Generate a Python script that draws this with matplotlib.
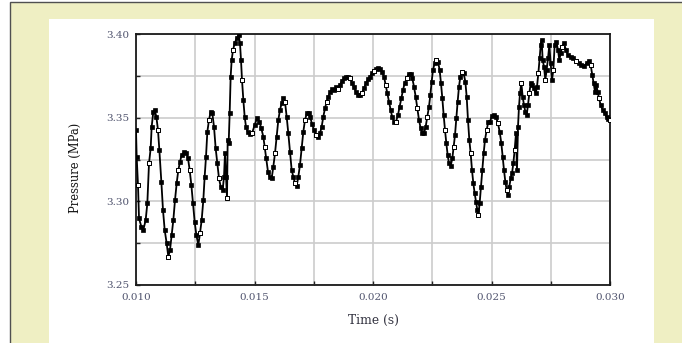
import numpy as np
import matplotlib
matplotlib.use("Agg")
import matplotlib.pyplot as plt
from matplotlib.patches import Rectangle

# pressure trace, time in ms
TIME_MS = [
    10.000, 10.028, 10.084, 10.127, 10.225, 10.309, 10.408, 10.478, 10.549, 10.619,
    10.661, 10.731, 10.788, 10.858, 10.928, 10.985, 11.069, 11.139, 11.210, 11.294,
    11.364, 11.435, 11.505, 11.575, 11.646, 11.716, 11.786, 11.857, 11.927, 12.025,
    12.124, 12.194, 12.265, 12.335, 12.405, 12.475, 12.546, 12.630, 12.700, 12.771,
    12.841, 12.897, 12.954, 13.010, 13.080, 13.150, 13.220, 13.291, 13.361, 13.432,
    13.502, 13.572, 13.657, 13.713, 13.755, 13.797, 13.840, 13.868, 13.910, 13.952,
    13.994, 14.037, 14.093, 14.163, 14.248, 14.332, 14.388, 14.430, 14.473, 14.529,
    14.585, 14.641, 14.712, 14.796,
    14.894, 15.006, 15.105, 15.204, 15.288, 15.372, 15.428, 15.499, 15.569, 15.639,
    15.724, 15.794, 15.865, 15.935, 16.005, 16.075, 16.146, 16.216, 16.286, 16.357,
    16.427, 16.497, 16.568, 16.638, 16.708, 16.779, 16.849, 16.919, 16.990, 17.060,
    17.130, 17.215, 17.285, 17.355, 17.426, 17.510, 17.595, 17.679, 17.763, 17.834,
    17.904, 17.974, 18.045, 18.115, 18.185, 18.270, 18.354, 18.439, 18.523, 18.608,
    18.692, 18.776, 18.861, 18.945, 19.030, 19.114, 19.198, 19.283, 19.367, 19.452,
    19.536, 19.620, 19.705, 19.789,
    19.873, 19.958, 20.042, 20.126, 20.211, 20.295, 20.379, 20.464, 20.534, 20.604,
    20.675, 20.745, 20.815, 20.900, 20.970, 21.054, 21.125, 21.195, 21.265, 21.336,
    21.420, 21.505, 21.589, 21.659, 21.730, 21.800, 21.870, 21.941, 22.011, 22.081,
    22.152, 22.222, 22.292, 22.362, 22.419, 22.475, 22.531, 22.602, 22.672, 22.742,
    22.812, 22.869, 22.925, 22.981, 23.038, 23.094, 23.150, 23.206, 23.277, 23.347,
    23.403, 23.460, 23.516, 23.572, 23.628, 23.685, 23.755, 23.825, 23.896, 23.952,
    24.008, 24.064, 24.121, 24.177, 24.233, 24.290, 24.346, 24.402, 24.444, 24.500,
    24.557, 24.613, 24.669, 24.725, 24.796,
    24.866, 24.936, 25.021, 25.105, 25.190, 25.274, 25.344, 25.415, 25.471, 25.527,
    25.583, 25.640, 25.696, 25.752, 25.808, 25.865, 25.921, 25.977, 26.033, 26.076,
    26.118, 26.160, 26.202, 26.258, 26.315, 26.371, 26.427, 26.484, 26.540, 26.596,
    26.652, 26.723, 26.793, 26.863, 26.920, 26.976, 27.032, 27.074, 27.116, 27.159,
    27.215, 27.271, 27.327, 27.384, 27.440, 27.496, 27.553, 27.609, 27.665, 27.735,
    27.806, 27.862, 27.918, 27.974, 28.059, 28.143, 28.228, 28.340, 28.453, 28.565,
    28.678, 28.790, 28.903, 29.015, 29.114, 29.184, 29.254, 29.311, 29.367, 29.423,
    29.480, 29.536, 29.606, 29.691, 29.775, 29.859, 29.916, 29.986,
]
PRESSURE_MPA = [
    3.3426, 3.3267, 3.3098, 3.2898, 3.2849, 3.2829, 3.2888, 3.2988, 3.3227, 3.3317,
    3.3446, 3.3536, 3.3546, 3.3506, 3.3426, 3.3307, 3.3118, 3.2948, 3.2829, 3.2749,
    3.2669, 3.2709, 3.2799, 3.2888, 3.3008, 3.3108, 3.3187, 3.3237, 3.3277, 3.3293,
    3.3291, 3.3257, 3.3187, 3.3098, 3.2988, 3.2878, 3.2799, 3.2739, 3.2809, 3.2888,
    3.3008, 3.3147, 3.3267, 3.3416, 3.3486, 3.3536, 3.3526, 3.3446, 3.3317, 3.3227,
    3.3137, 3.3088, 3.3068, 3.3147, 3.3287, 3.3147, 3.3018, 3.3367, 3.3347, 3.3526,
    3.3745, 3.3845, 3.3904, 3.3944, 3.3974, 3.3994, 3.3944, 3.3845, 3.3725, 3.3606,
    3.3506, 3.3446, 3.3416, 3.3402,
    3.3406, 3.3456, 3.3496, 3.3476, 3.3436, 3.3386, 3.3327, 3.3257, 3.3177, 3.3147,
    3.3137, 3.3207, 3.3287, 3.3386, 3.3486, 3.3546, 3.3586, 3.3616, 3.3596, 3.3506,
    3.3406, 3.3297, 3.3187, 3.3147, 3.3108, 3.3092, 3.3147, 3.3217, 3.3317, 3.3416,
    3.3486, 3.3530, 3.3530, 3.3502, 3.3462, 3.3426, 3.3396, 3.3386, 3.3406, 3.3446,
    3.3506, 3.3556, 3.3596, 3.3625, 3.3651, 3.3669, 3.3665, 3.3681, 3.3669, 3.3695,
    3.3721, 3.3735, 3.3741, 3.3745, 3.3735, 3.3709, 3.3681, 3.3655, 3.3635, 3.3633,
    3.3649, 3.3675, 3.3705, 3.3729,
    3.3745, 3.3765, 3.3781, 3.3791, 3.3795, 3.3789, 3.3775, 3.3745, 3.3695, 3.3645,
    3.3596, 3.3546, 3.3502, 3.3476, 3.3476, 3.3516, 3.3566, 3.3616, 3.3665, 3.3705,
    3.3735, 3.3759, 3.3761, 3.3735, 3.3685, 3.3626, 3.3556, 3.3486, 3.3436, 3.3410,
    3.3406, 3.3446, 3.3506, 3.3566, 3.3635, 3.3715, 3.3785, 3.3825, 3.3845, 3.3835,
    3.3785, 3.3705, 3.3616, 3.3516, 3.3426, 3.3347, 3.3277, 3.3227, 3.3211, 3.3257,
    3.3327, 3.3396, 3.3496, 3.3596, 3.3685, 3.3745, 3.3775, 3.3765, 3.3715, 3.3626,
    3.3486, 3.3367, 3.3287, 3.3187, 3.3108, 3.3048, 3.2998, 3.2948, 3.2918, 3.2988,
    3.3088, 3.3187, 3.3287, 3.3367, 3.3426,
    3.3476, 3.3476, 3.3510, 3.3516, 3.3502, 3.3466, 3.3416, 3.3347, 3.3267, 3.3187,
    3.3118, 3.3068, 3.3038, 3.3088, 3.3137, 3.3167, 3.3227, 3.3307, 3.3406, 3.3187,
    3.3446, 3.3566, 3.3645, 3.3709, 3.3625, 3.3576, 3.3536, 3.3516, 3.3576, 3.3645,
    3.3705, 3.3695, 3.3675, 3.3645, 3.3685, 3.3765, 3.3855, 3.3934, 3.3964, 3.3845,
    3.3805, 3.3725, 3.3785, 3.3855, 3.3934, 3.3825, 3.3725, 3.3785, 3.3934, 3.3954,
    3.3904, 3.3845, 3.3885, 3.3924, 3.3944, 3.3904, 3.3874, 3.3865, 3.3855, 3.3841,
    3.3825, 3.3815, 3.3809, 3.3825, 3.3841, 3.3815, 3.3755, 3.3705, 3.3655, 3.3695,
    3.3655, 3.3616, 3.3576, 3.3546, 3.3526, 3.3502, 3.3490, 3.3486,
]

X_TICKS = [0.010, 0.0125, 0.015, 0.0175, 0.020, 0.0225, 0.025, 0.0275, 0.030]
X_LABELS = ["0.010", "", "0.015", "", "0.020", "", "0.025", "", "0.030"]
Y_TICKS = [3.25, 3.275, 3.30, 3.325, 3.35, 3.375, 3.40]
Y_LABELS = ["3.25", "", "3.30", "", "3.35", "", "3.40"]

SERIF = ["DejaVu Serif"]
TICK_COLOR = "#50546e"


def main():
    t = np.array(TIME_MS) / 1000.0
    p = np.array(PRESSURE_MPA)

    fig = plt.figure(figsize=(6.82, 3.43), dpi=100, facecolor="white")

    # pale frame with a white panel on top of it, both behind the axes
    fig.patches.append(Rectangle((9.6 / 682, -0.1), 1.0, 1.1 - 1.7 / 343,
                                 transform=fig.transFigure, facecolor="#efefc3",
                                 edgecolor="#505050", linewidth=1.0, zorder=-2))
    fig.patches.append(Rectangle((49 / 682, -0.05), (654 - 49) / 682, 1.05 - 19 / 343,
                                 transform=fig.transFigure, facecolor="white",
                                 edgecolor="none", zorder=-1))

    ax = fig.add_axes([136 / 682, 1 - 285 / 343, 474 / 682, 251 / 343])
    ax.set_facecolor("white")

    ax.plot(t, p, color="black", lw=1.3, marker="s", ms=2.6,
            mfc="black", mec="black", mew=0.5, zorder=3)
    ax.plot(t, p, ls="none", marker="s", ms=2.6, markevery=(2, 6),
            mfc="white", mec="black", mew=0.7, zorder=4)

    ax.set_xlim(0.010, 0.030)
    ax.set_ylim(3.25, 3.40)
    ax.set_xticks(X_TICKS)
    ax.set_xticklabels(X_LABELS)
    ax.set_yticks(Y_TICKS)
    ax.set_yticklabels(Y_LABELS)
    ax.grid(True, color="#cccccc", lw=1.2)
    ax.set_axisbelow(True)

    ax.tick_params(direction="in", length=3, width=1, color="#222222",
                   labelsize=7.5, labelcolor=TICK_COLOR)
    ax.tick_params(axis="x", pad=5.5)
    ax.tick_params(axis="y", pad=5)
    for lbl in ax.get_xticklabels() + ax.get_yticklabels():
        lbl.set_family(SERIF)

    for spine in ax.spines.values():
        spine.set_linewidth(1.3)
        spine.set_color("#1a1a1a")

    ax.set_xlabel("Time (s)", family=SERIF, fontsize=8.8, color="#333340", labelpad=9)
    fig.text(75 / 682, 1 - 168 / 343, "Pressure (MPa)", family=SERIF, fontsize=8.3,
             color="#111111", rotation=90, ha="center", va="center")

    fig.savefig("out.png", dpi=100, facecolor=fig.get_facecolor())


if __name__ == "__main__":
    main()
